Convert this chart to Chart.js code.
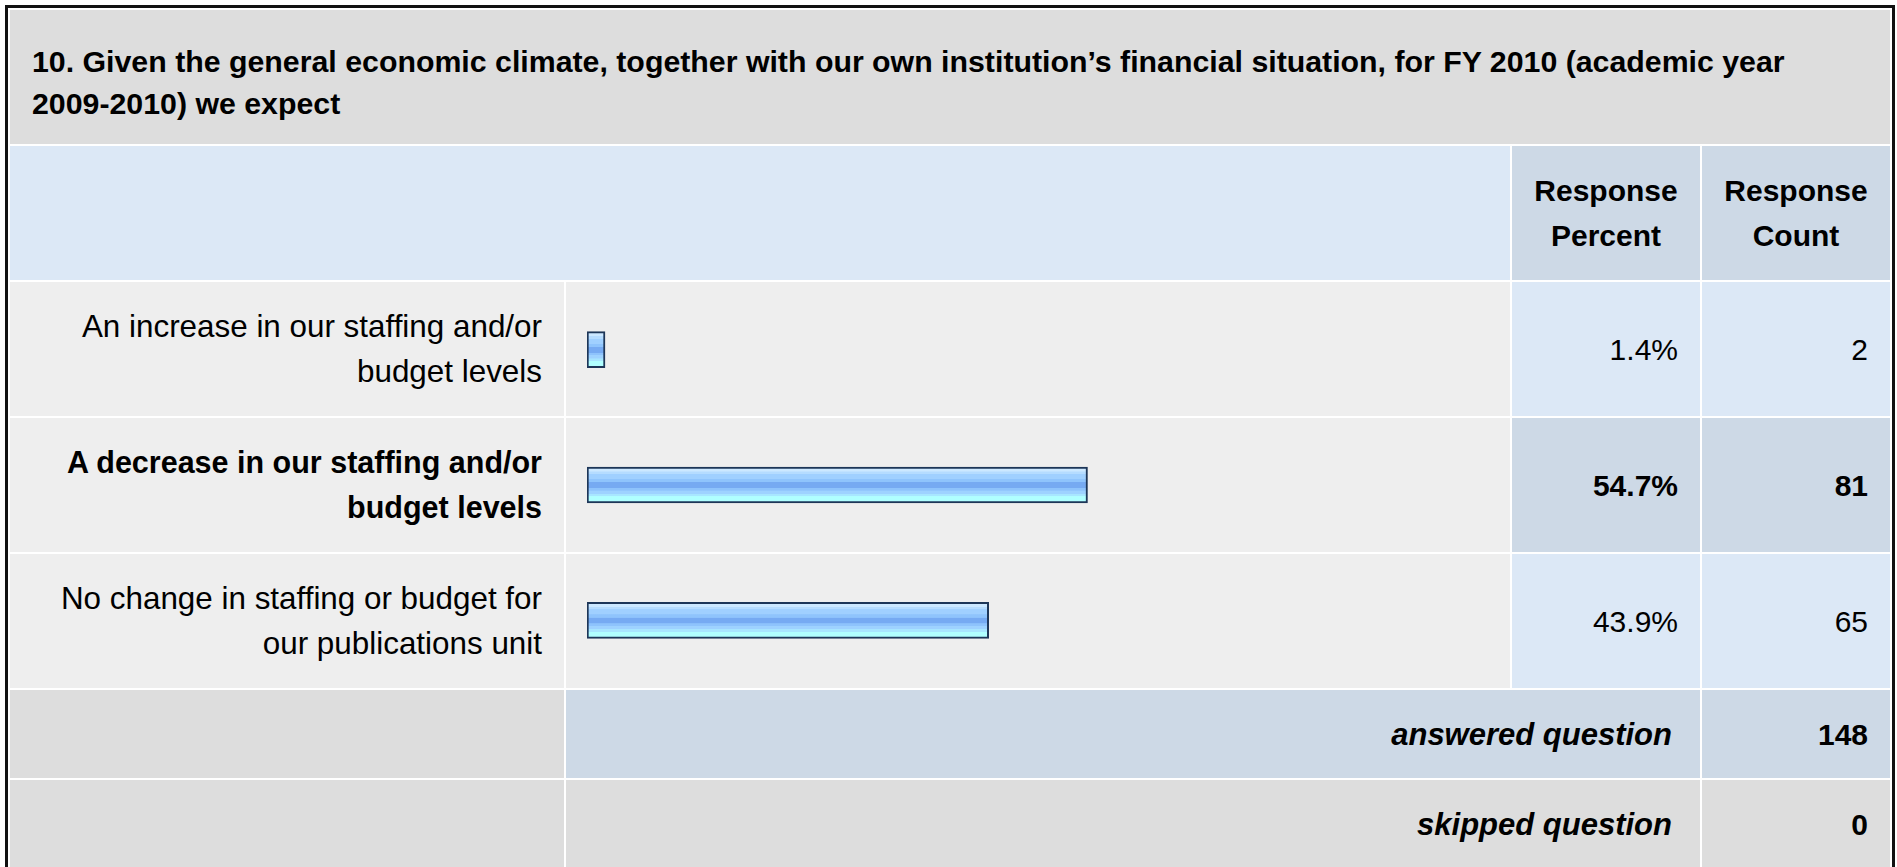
<!DOCTYPE html>
<html>
<head>
<meta charset="utf-8">
<script src="https://cdn.jsdelivr.net/npm/chart.js@4.4.0/dist/chart.umd.min.js"></script>
<style>
  html, body { margin: 0; padding: 0; background: #fff; overflow: hidden; }
  body { width: 1897px; height: 867px; position: relative; font-family: "Liberation Sans", Arial, sans-serif; color: #000; }
  #frame { position: absolute; left: 5px; top: 5px; width: 1884px; height: 900px; border: 3px solid #111; background: #fff; }
  table { border-collapse: separate; border-spacing: 2px; table-layout: fixed; width: 1884px; }
  td { padding: 0 22px; font-size: 30px; line-height: 45px; vertical-align: middle; }
  .title { background: #dddddd; height: 103px; font-weight: bold; font-size: 30.3px; line-height: 42px; vertical-align: top; padding-top: 31px; padding-left: 22px; }
  .nowrap { white-space: nowrap; }
  .hdr-blank { background: #dce8f6; height: 134px; }
  .hdr { background: #cdd9e6; font-weight: bold; text-align: center; padding: 0; }
  .lbl { background: #eeeeee; text-align: right; height: 134px; font-size: 31.4px; }
  .bar { background: #eeeeee; }
  .num { background: #dce8f6; text-align: right; }
  .sel .num { background: #cdd9e6; font-weight: bold; }
  .sel .lbl { font-weight: bold; font-size: 30.5px; }
  .foot td { height: 88px; }
  .gray { background: #dddddd; }
  .blue { background: #cdd9e6; }
  .foot .cap { text-align: right; font-weight: bold; font-style: italic; padding-right: 28px; font-size: 31px; }
  .foot .tot { text-align: right; font-weight: bold; }
  #chartBox { position: absolute; left: 587px; top: 282px; width: 915px; height: 406px; }
</style>
</head>
<body>
<div id="frame">
  <table>
    <colgroup>
      <col style="width:554px"><col style="width:944px"><col style="width:188px"><col style="width:188px">
    </colgroup>
    <tr><td class="title" colspan="4" id="question"></td></tr>
    <tr>
      <td class="hdr-blank" colspan="2"></td>
      <td class="hdr">Response<br>Percent</td>
      <td class="hdr">Response<br>Count</td>
    </tr>
    <tbody id="rows"></tbody>
    <tr class="foot">
      <td class="gray"></td>
      <td class="blue cap" colspan="2">answered question</td>
      <td class="blue tot" id="answered"></td>
    </tr>
    <tr class="foot">
      <td class="gray"></td>
      <td class="gray cap" colspan="2">skipped question</td>
      <td class="gray tot" id="skipped"></td>
    </tr>
  </table>
</div>
<div id="chartBox"><canvas id="responseChart"></canvas></div>

<script>
const questionStart = "10. Given the general economic climate, together with our own institution\u2019s financial situation, for FY 2010 (academic year ";
const questionYears = "2009-2010)";
const questionEnd = " we expect";
const choices = [
  "An increase in our staffing and/or budget levels",
  "A decrease in our staffing and/or budget levels",
  "No change in staffing or budget for our publications unit"
];
const percents = [1.4, 54.7, 43.9];
const counts = [2, 81, 65];
const answeredCount = 148;
const skippedCount = 0;
const topChoice = 1;

const q = document.getElementById('question');
q.appendChild(document.createTextNode(questionStart));
const yrs = document.createElement('span');
yrs.className = 'nowrap';
yrs.textContent = questionYears;
q.appendChild(yrs);
q.appendChild(document.createTextNode(questionEnd));

document.getElementById('answered').textContent = answeredCount;
document.getElementById('skipped').textContent = skippedCount;

const rows = document.getElementById('rows');
choices.forEach(function(label, i) {
  const tr = document.createElement('tr');
  if (i === topChoice) tr.className = 'sel';
  tr.innerHTML = '<td class="lbl"></td><td class="bar"></td><td class="num"></td><td class="num"></td>';
  tr.children[0].textContent = label;
  tr.children[2].textContent = percents[i].toFixed(1) + '%';
  tr.children[3].textContent = counts[i];
  rows.appendChild(tr);
});

// striped glossy fill like the survey bars
function barFill(context) {
  const chart = context.chart;
  if (!chart.chartArea) return '#9fd0ff';
  const yc = chart.scales.y.getPixelForValue(context.dataIndex);
  const top = yc - 18, bottom = yc + 18;
  const g = chart.ctx.createLinearGradient(0, top, 0, bottom);
  const bands = [
    [0.00, '#cce8ff'], [0.12, '#cce8ff'],
    [0.13, '#b5dcff'], [0.19, '#b5dcff'],
    [0.20, '#a0d0ff'], [0.33, '#a0d0ff'],
    [0.34, '#8fc4fc'], [0.42, '#8fc4fc'],
    [0.43, '#76aaf2'], [0.58, '#76aaf2'],
    [0.59, '#8ec3fc'], [0.65, '#8ec3fc'],
    [0.66, '#9ed2ff'], [0.74, '#9ed2ff'],
    [0.75, '#a8e6ff'], [0.81, '#a8e6ff'],
    [0.82, '#b0ffff'], [1.00, '#b0ffff']
  ];
  bands.forEach(function(b) { g.addColorStop(b[0], b[1]); });
  return g;
}

const ctx = document.getElementById('responseChart').getContext('2d');
new Chart(ctx, {
  type: 'bar',
  data: {
    labels: choices,
    datasets: [{
      label: 'Response Percent',
      data: percents,
      backgroundColor: barFill,
      borderColor: '#1d3658',
      borderWidth: 2,
      borderSkipped: false,
      barThickness: 36,
      minBarLength: 18
    }]
  },
  options: {
    indexAxis: 'y',
    responsive: true,
    maintainAspectRatio: false,
    animation: false,
    layout: { padding: 0 },
    plugins: { legend: { display: false }, tooltip: { enabled: false } },
    scales: {
      x: { min: 0, max: 100, display: false, grid: { display: false } },
      y: { display: false, grid: { display: false } }
    }
  }
});
</script>
</body>
</html>
